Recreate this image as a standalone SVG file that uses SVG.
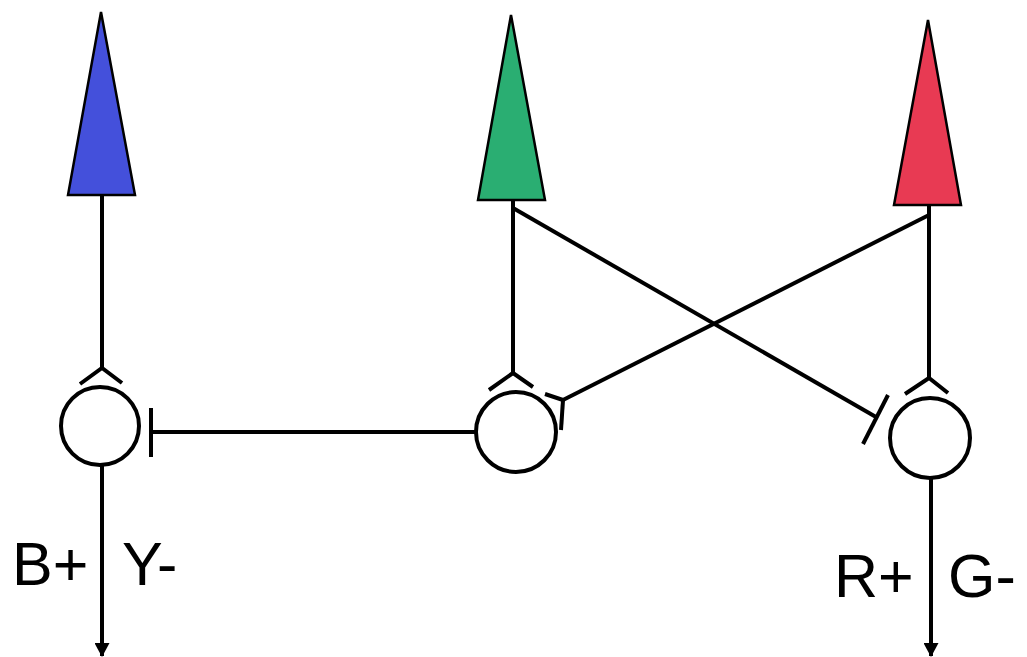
<svg xmlns="http://www.w3.org/2000/svg" width="1027" height="657" viewBox="0 0 1027 657">
<defs>
<style>
.ln{stroke:#000;stroke-width:4;fill:none}
.cell{stroke:#000;stroke-width:4;fill:#fff}
.tri{stroke:#000;stroke-width:2.5}
.lbl{font-family:"Liberation Sans",Arial,sans-serif;font-size:61px;fill:#000}
</style>
<marker id="ah" markerWidth="14" markerHeight="15" refX="13" refY="7.5" orient="auto" markerUnits="userSpaceOnUse"><path d="M0,0 L14,7.5 L0,15 Z" fill="#000"/></marker>
</defs>
<g id="connectors">
<line class="ln" x1="102" y1="195" x2="102" y2="368"/>
<polyline class="ln" points="80,384 102,368 122,383"/>
<line class="ln" x1="151" y1="432" x2="476" y2="432"/>
<line class="ln" x1="151" y1="408" x2="151" y2="457"/>
<line class="ln" x1="513" y1="200" x2="513" y2="373"/>
<polyline class="ln" points="489,390 513,373 533,387"/>
<line class="ln" x1="513" y1="208" x2="876" y2="417"/>
<line class="ln" x1="888" y1="395" x2="863" y2="444"/>
<line class="ln" x1="929" y1="205" x2="929" y2="378"/>
<polyline class="ln" points="905,394 929,378 948,393"/>
<line class="ln" x1="929" y1="215" x2="563" y2="400"/>
<line class="ln" x1="545" y1="394" x2="563" y2="400"/>
<line class="ln" x1="563" y1="400" x2="561" y2="430"/>
<line class="ln" x1="102" y1="466" x2="102" y2="656" marker-end="url(#ah)"/>
<line class="ln" x1="931" y1="478" x2="931" y2="656" marker-end="url(#ah)"/>
</g>
<g id="blue-cone"><polygon class="tri" points="101,12 68,195 135,195" fill="#4450DB"/></g>
<g id="green-cone"><polygon class="tri" points="511,15 478,200 545,200" fill="#2AAE72"/></g>
<g id="red-cone"><polygon class="tri" points="928,20 894,205 961,205" fill="#E83A53"/></g>
<g id="cell-left"><circle class="cell" cx="100" cy="426" r="39"/></g>
<g id="cell-mid"><circle class="cell" cx="516" cy="432" r="40"/></g>
<g id="cell-right"><circle class="cell" cx="930" cy="438" r="40"/></g>
<g id="labels">
<text class="lbl" x="12" y="585">B+</text>
<text class="lbl" x="122" y="585">Y-</text>
<text class="lbl" x="834" y="597">R+</text>
<text class="lbl" x="948" y="597">G-</text>
</g>
</svg>
